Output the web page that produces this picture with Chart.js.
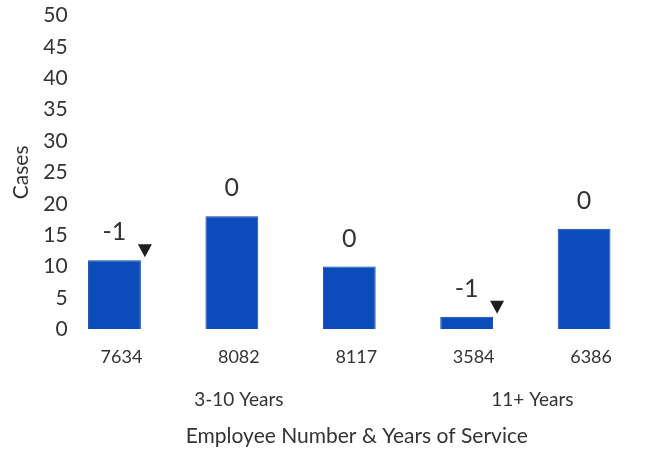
<!DOCTYPE html>
<html>
<head>
<meta charset="utf-8">
<script src="https://cdn.jsdelivr.net/npm/chart.js@4/dist/chart.umd.min.js"></script>
<style>
  html, body { margin: 0; padding: 0; background: #fff; }
  #wrap { width: 650px; height: 454px; }
</style>
</head>
<body>
<div id="wrap"><canvas id="casesChart"></canvas></div>
<script>
// Chart data
const employees = ['7634', '8082', '8117', '3584', '6386'];
const cases = [11, 18, 10, 2, 16];
const changes = [-1, 0, 0, -1, 0];
const groupNames = ['3-10 Years', '11+ Years'];
const groupStart = [0, 3];
const groupEnd = [2, 4];
const yTicks = [0, 5, 10, 15, 20, 25, 30, 35, 40, 45, 50];

const FONT = 'Lato, "Open Sans", sans-serif';
const TEXT = '#333333';
const LABEL_SHIFT = 7;

// Draws change labels, down arrows and the group labels under the axis
const annotate = {
    id: 'annotate',
    afterDatasetsDraw(chart) {
        const ctx = chart.ctx;
        const bars = chart.getDatasetMeta(0).data;
        ctx.save();
        ctx.fillStyle = TEXT;
        ctx.font = '25px ' + FONT;
        ctx.textAlign = 'center';
        ctx.textBaseline = 'middle';
        bars.forEach((bar, i) => {
            ctx.fillText(String(changes[i]), bar.x, bar.y - 28);
            if (changes[i] < 0) {
                const r = bar.x + bar.width / 2;
                ctx.fillStyle = '#1e1e1e';
                ctx.beginPath();
                ctx.moveTo(r - 3, bar.y - 16);
                ctx.lineTo(r + 11, bar.y - 16);
                ctx.lineTo(r + 4, bar.y - 3);
                ctx.closePath();
                ctx.fill();
                ctx.fillStyle = TEXT;
            }
        });

        const x = chart.scales.x;
        ctx.font = '19px ' + FONT;
        groupNames.forEach((name, g) => {
            const cx = (x.getPixelForValue(groupStart[g]) + x.getPixelForValue(groupEnd[g])) / 2;
            ctx.fillText(name, cx + LABEL_SHIFT, 400);
        });
        ctx.restore();
    }
};

const config = {
    type: 'bar',
    data: {
        datasets: [{
            label: 'Cases',
            data: cases.map((v, i) => ({ x: i, y: v })),
            backgroundColor: '#0b4cba',
            borderColor: '#0a45a8',
            borderWidth: 1,
            barPercentage: 0.45,
            categoryPercentage: 1
        }]
    },
    options: {
        responsive: true,
        maintainAspectRatio: false,
        animation: false,
        layout: { padding: { top: 11, right: 7, bottom: 1, left: 2 } },
        plugins: {
            legend: { display: false },
            tooltip: { enabled: false }
        },
        scales: {
            x: {
                type: 'linear',
                offset: false,
                min: -0.374,
                max: 4.502,
                afterBuildTicks(axis) {
                    axis.ticks = employees.map((e, i) => ({ value: i }));
                },
                grid: { display: false, drawTicks: false, offset: false },
                border: { display: false },
                ticks: {
                    color: TEXT,
                    font: { family: FONT, size: 18 },
                    padding: 17,
                    labelOffset: LABEL_SHIFT,
                    maxRotation: 0,
                    autoSkip: false,
                    callback: (v) => employees[v]
                },
                title: {
                    display: true,
                    text: 'Employee Number & Years of Service',
                    color: TEXT,
                    font: { family: FONT, size: 21 },
                    padding: { top: 39, bottom: 4 }
                }
            },
            y: {
                min: 0,
                max: 50,
                afterBuildTicks(axis) {
                    axis.ticks = yTicks.map(v => ({ value: v }));
                },
                grid: { display: false, drawTicks: false },
                border: { display: false },
                ticks: {
                    color: TEXT,
                    font: { family: FONT, size: 21 },
                    padding: 3
                },
                title: {
                    display: true,
                    text: 'Cases',
                    color: TEXT,
                    font: { family: FONT, size: 21 },
                    padding: { top: 7, bottom: 6 }
                }
            }
        }
    },
    plugins: [annotate]
};

const ctx = document.getElementById('casesChart').getContext('2d');
new Chart(ctx, config);
</script>
</body>
</html>
